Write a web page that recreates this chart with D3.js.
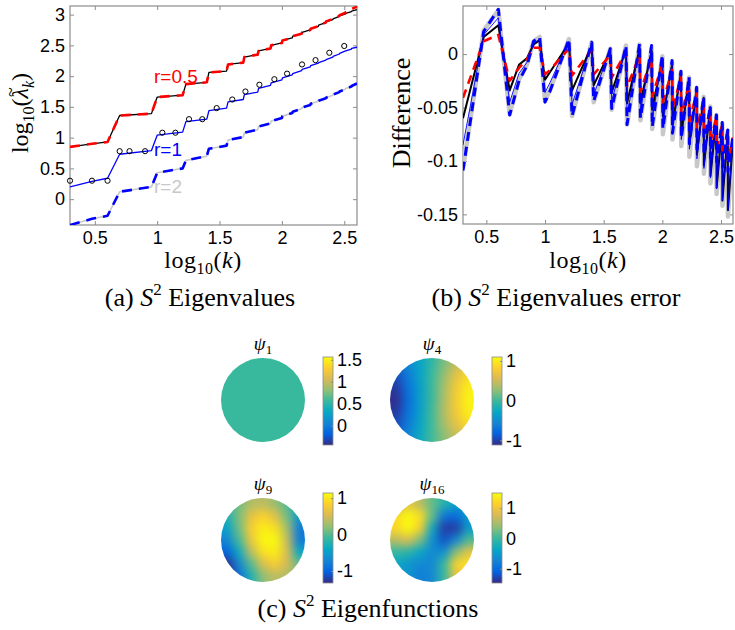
<!DOCTYPE html>
<html>
<head>
<meta charset="utf-8">
<script src="https://cdn.jsdelivr.net/npm/d3@7"></script>
<style>
body { margin:0; background:#fff; }
</style>
</head>
<body>
<script>
// ---- data: (a) eigenvalues, x = k, y = log10(lambda)
var kA = [2,3,4,5,9,10,16,17,25,26,36,37,49,50,64,65,81,82,100,101,121,122,144,145,169,170,196,197,225,226,256,257,289,290,324,325,361,362,400];
var r05Solid = [0.85,0.90,0.93,1.36,1.39,1.66,1.69,1.87,1.90,2.06,2.08,2.19,2.22,2.31,2.35,2.41,2.45,2.50,2.54,2.58,2.62,2.65,2.69,2.71,2.75,2.77,2.81,2.83,2.87,2.88,2.92,2.93,2.97,2.98,3.01,3.02,3.05,3.055,3.08];
var r05Dash  = [0.85,0.90,0.93,1.36,1.39,1.66,1.69,1.87,1.90,2.06,2.08,2.19,2.22,2.31,2.35,2.41,2.45,2.50,2.54,2.58,2.62,2.65,2.69,2.71,2.75,2.77,2.81,2.83,2.87,2.89,2.93,2.94,2.98,2.99,3.03,3.04,3.08,3.09,3.13];
var r1Solid  = [0.20,0.29,0.34,0.73,0.79,1.04,1.09,1.26,1.30,1.44,1.48,1.58,1.62,1.70,1.74,1.80,1.85,1.89,1.94,1.97,2.02,2.04,2.09,2.11,2.15,2.17,2.21,2.22,2.26,2.27,2.31,2.32,2.36,2.37,2.41,2.41,2.44,2.45,2.47];
var r2Solid  = [-0.42,-0.32,-0.27,0.12,0.20,0.43,0.50,0.63,0.70,0.82,0.87,0.96,1.01,1.08,1.13,1.18,1.23,1.27,1.32,1.35,1.40,1.42,1.47,1.49,1.53,1.55,1.59,1.60,1.64,1.65,1.69,1.70,1.74,1.75,1.79,1.80,1.83,1.84,1.88];
var r2Dash   = r2Solid;
var kTrue   = [2,3,4,5,6,8,11,14,18,23,30,40,51,66,87,110,145,186,240,316];
var lamTrue = [0.30,0.30,0.30,0.78,0.78,0.78,1.08,1.08,1.30,1.30,1.48,1.62,1.75,1.86,1.95,2.04,2.19,2.26,2.38,2.49];

// ---- data: (b) error
var kB = [2,3,4,5,6,7,8,9,10,11,16,17,25,26,36,37,49,50,64,65,81,82,100,101,121,122,144,145,169,170,196,197,225,226,256,257,289,290,324,325,361,362,400];
var errGray  = [-0.107,0.022,0.041,-0.056,-0.024,-0.010,0.012,0.016,-0.044,-0.034,0.014,-0.058,0.011,-0.045,0.005,-0.052,0.008,-0.066,0.009,-0.062,0.006,-0.070,-0.002,-0.075,-0.008,-0.080,-0.017,-0.086,-0.022,-0.096,-0.032,-0.105,-0.040,-0.112,-0.049,-0.121,-0.057,-0.131,-0.065,-0.142,-0.072,-0.152,-0.079];
var errBlack = [-0.060,0.016,0.027,-0.034,-0.010,-0.004,0.009,0.013,-0.024,-0.017,0.010,-0.034,0.008,-0.029,0.003,-0.036,0.005,-0.046,0.005,-0.046,0.003,-0.052,-0.004,-0.058,-0.010,-0.065,-0.018,-0.074,-0.024,-0.084,-0.033,-0.094,-0.041,-0.104,-0.050,-0.114,-0.058,-0.125,-0.066,-0.137,-0.073,-0.146,-0.080];
var errThin  = [-0.085,0.018,0.034,-0.045,-0.018,-0.008,0.010,0.014,-0.036,-0.027,0.012,-0.047,0.009,-0.038,0.004,-0.044,0.006,-0.057,0.007,-0.054,0.005,-0.061,-0.003,-0.066,-0.008,-0.072,-0.017,-0.080,-0.023,-0.089,-0.032,-0.098,-0.040,-0.107,-0.049,-0.116,-0.057,-0.126,-0.065,-0.137,-0.072,-0.146,-0.079];
var errRed   = [-0.041,0.012,0.018,-0.025,-0.013,-0.005,0.006,0.006,-0.019,-0.015,0.005,-0.020,0.004,-0.019,-0.001,-0.022,0.002,-0.031,-0.001,-0.035,-0.004,-0.040,-0.009,-0.045,-0.015,-0.051,-0.022,-0.057,-0.028,-0.063,-0.036,-0.070,-0.043,-0.076,-0.051,-0.083,-0.058,-0.089,-0.065,-0.095,-0.072,-0.100,-0.078];
var errBlue  = [-0.109,0.021,0.042,-0.057,-0.025,-0.011,0.012,0.016,-0.045,-0.035,0.014,-0.058,0.011,-0.044,0.005,-0.051,0.008,-0.066,0.010,-0.060,0.008,-0.068,-0.001,-0.070,-0.006,-0.074,-0.016,-0.079,-0.021,-0.084,-0.031,-0.089,-0.040,-0.093,-0.048,-0.097,-0.057,-0.101,-0.064,-0.106,-0.071,-0.110,-0.077];

var ticksX  = [0.5,1,1.5,2,2.5];
var ticksYA = [0,0.5,1,1.5,2,2.5,3];
var ticksYB = [-0.15,-0.1,-0.05,0];

// ---- data: (c) eigenfunctions (values sampled on a 7x7 grid over each disc)
var psi1Value = 0.564;
var psi4Grid = [
	[-0.80,-0.55,-0.30,-0.05,0.20,0.45,0.65],
	[-0.95,-0.65,-0.32,0.00,0.30,0.65,0.90],
	[-1.05,-0.72,-0.35,0.00,0.35,0.75,1.02],
	[-1.10,-0.75,-0.38,0.00,0.38,0.78,1.06],
	[-1.05,-0.72,-0.35,0.02,0.40,0.75,1.02],
	[-0.95,-0.65,-0.30,0.02,0.35,0.65,0.90],
	[-0.80,-0.55,-0.25,0.02,0.25,0.45,0.65]];
var psi9Grid = [
	[-0.10,0.10,0.35,0.40,0.25,0.00,-0.35],
	[-0.25,0.15,0.65,0.85,0.60,0.10,-0.55],
	[-0.45,0.10,0.80,1.05,0.95,0.30,-0.80],
	[-0.70,-0.05,0.70,1.12,1.12,0.45,-0.80],
	[-1.00,-0.35,0.40,0.95,1.05,0.55,-0.40],
	[-1.30,-0.70,0.00,0.55,0.80,0.50,0.05],
	[-1.35,-0.90,-0.25,0.20,0.40,0.35,0.20]];
var psi16Grid = [
	[0.60,0.90,0.60,0.20,-0.10,-0.40,-0.50],
	[1.20,1.55,1.25,0.20,-0.90,-1.00,-0.50],
	[1.20,1.55,1.10,-0.30,-1.35,-1.35,-0.50],
	[0.60,0.80,0.30,-0.60,-1.20,-0.70,0.10],
	[0.00,-0.10,-0.35,-0.70,-0.60,0.35,0.90],
	[-0.35,-0.55,-0.70,-0.70,0.00,1.15,1.30],
	[-0.35,-0.55,-0.80,-0.70,0.00,0.90,1.00]];
var psiNames  = ["1","4","9","16"];
var psiRanges = [[-0.436,1.564],[-1.12,1.10],[-1.33,1.14],[-1.47,1.50]];
var psiTicks  = [[0,0.5,1,1.5],[-1,0,1],[-1,0,1],[-1,0,1]];
var parula = ["#352a87","#0363e1","#1485d4","#06a7c6","#38b99e","#92bf73","#d9ba56","#fcce2e","#f9fb0e"];

var svg;
var spineColor = "#8c8c8c";
var sansFont = "'Liberation Sans', Arial, sans-serif";
var serifFont = "'Liberation Serif', 'Times New Roman', serif";

iniSvg(735, 630);
drawPanelA();
drawPanelB();
drawPanelC();

function iniSvg(w, h) {
	svg = d3.select('body')
		.append('svg')
		.attr('width', w)
		.attr('height', h);
	svg.append('defs');
	return svg;
}

// box axes in the matlab style: ticks inside, on all four sides
function drawBox(g, x, y, xt, yt, id) {
	var x0 = x.range()[0], x1 = x.range()[1], y0 = y.range()[0], y1 = y.range()[1];
	var fmt = function(d) { return String(d); };
	g.append('g').attr('transform', 'translate(0,' + y0 + ')')
		.call(d3.axisBottom(x).tickValues(xt).tickSize(-4).tickPadding(6).tickFormat(fmt));
	g.append('g').attr('transform', 'translate(0,' + y1 + ')')
		.call(d3.axisTop(x).tickValues(xt).tickSize(-4).tickFormat(''));
	g.append('g').attr('transform', 'translate(' + x0 + ',0)')
		.call(d3.axisLeft(y).tickValues(yt).tickSize(-4).tickPadding(5).tickFormat(fmt));
	g.append('g').attr('transform', 'translate(' + x1 + ',0)')
		.call(d3.axisRight(y).tickValues(yt).tickSize(-4).tickFormat(''));
	g.selectAll('.domain').remove();
	g.selectAll('.tick line').attr('stroke', spineColor);
	g.selectAll('.tick text').attr('font-family', sansFont).attr('font-size', 18).attr('fill', '#000');
	g.append('rect')
		.attr('x', x0).attr('y', y1)
		.attr('width', x1 - x0).attr('height', y0 - y1)
		.attr('fill', 'none').attr('stroke', spineColor).attr('stroke-width', 1.2);
	svg.select('defs').append('clipPath').attr('id', id)
		.append('rect').attr('x', x0).attr('y', y1).attr('width', x1 - x0).attr('height', y0 - y1);
}

function addLine(g, ks, vals, x, y, color, width, dash, clip) {
	var line = d3.line()
		.x(function(d) { return x(Math.log10(d[0])); })
		.y(function(d) { return y(d[1]); });
	g.append('path')
		.datum(d3.zip(ks, vals))
		.attr('clip-path', 'url(#' + clip + ')')
		.attr('d', line)
		.attr('fill', 'none')
		.attr('stroke', color)
		.attr('stroke-width', width)
		.attr('stroke-dasharray', dash)
		.attr('stroke-linejoin', 'round');
}

function addCaption(x, y, label, rest) {
	var t = svg.append('text')
		.attr('x', x).attr('y', y)
		.attr('text-anchor', 'middle')
		.attr('font-family', serifFont)
		.attr('font-size', 26);
	t.append('tspan').text(label + ' ');
	t.append('tspan').attr('font-style', 'italic').text('S');
	t.append('tspan').attr('font-size', 17).attr('dy', -11).text('2');
	t.append('tspan').attr('dy', 11).text(' ' + rest);
}

function addXLabel(x, y) {
	var t = svg.append('text')
		.attr('x', x).attr('y', y)
		.attr('text-anchor', 'middle')
		.attr('font-family', serifFont)
		.attr('font-size', 24)
		.attr('letter-spacing', 0.5);
	t.append('tspan').text('log');
	t.append('tspan').attr('font-size', 16).attr('dy', 6).text('10');
	t.append('tspan').attr('dy', -6).text('(');
	t.append('tspan').attr('font-style', 'italic').text('k');
	t.append('tspan').text(')');
}

function drawPanelA() {
	var x = d3.scaleLinear().domain([Math.log10(2), Math.log10(400)]).range([70, 357]);
	var y = d3.scaleLinear().domain([-0.42, 3.14]).range([225, 6]);
	var g = svg.append('g').attr('id', 'panelA');
	drawBox(g, x, y, ticksX, ticksYA, 'clipA');

	addLine(g, kA, r05Solid, x, y, '#000', 1.3, null, 'clipA');
	addLine(g, kA, r05Dash, x, y, '#ff0000', 2.6, '10,7', 'clipA');
	addLine(g, kA, r1Solid, x, y, '#0000ff', 1.3, null, 'clipA');
	addLine(g, kA, r2Solid, x, y, '#c8c8c8', 1.6, null, 'clipA');
	addLine(g, kA, r2Dash, x, y, '#0000ff', 2.6, '10,7', 'clipA');

	g.append('g').selectAll('circle.trueEig')
		.data(d3.zip(kTrue, lamTrue))
		.enter()
		.append('circle')
		.attr('class', 'trueEig')
		.attr('cx', function(d) { return x(Math.log10(d[0])); })
		.attr('cy', function(d) { return y(d[1]); })
		.attr('r', 2.6)
		.attr('fill', 'none')
		.attr('stroke', '#000')
		.attr('stroke-width', 1);

	var labs = [['r=0.5', '#ff0000', 83], ['r=1', '#0000ff', 156], ['r=2', '#c8c8c8', 193]];
	g.selectAll('text.rlab').data(labs).enter().append('text')
		.attr('class', 'rlab')
		.attr('x', 154).attr('y', function(d) { return d[2]; })
		.attr('font-family', sansFont).attr('font-size', 19)
		.attr('fill', function(d) { return d[1]; })
		.text(function(d) { return d[0]; });

	// y label; the tilde is put over the lambda after layout
	var yl = svg.append('g').attr('transform', 'translate(28,113) rotate(-90)');
	var t = yl.append('text')
		.attr('text-anchor', 'middle')
		.attr('font-family', serifFont)
		.attr('font-size', 24);
	t.append('tspan').text('log');
	t.append('tspan').attr('font-size', 16).attr('dy', 6).text('10');
	t.append('tspan').attr('dy', -6).text('(');
	t.append('tspan').attr('font-style', 'italic').text('\u03bb');
	t.append('tspan').attr('font-style', 'italic').attr('font-size', 16).attr('dy', 6).text('k');
	t.append('tspan').attr('dy', -6).text(')');
	var ext = t.node().getExtentOfChar(6);
	yl.append('text')
		.attr('x', ext.x + ext.width / 2 + 1)
		.attr('y', ext.y + 10)
		.attr('text-anchor', 'middle')
		.attr('font-family', serifFont)
		.attr('font-size', 18)
		.text('~');

	addXLabel(203, 268);
	addCaption(200, 306, '(a)', 'Eigenvalues');
}

function drawPanelB() {
	var x = d3.scaleLinear().domain([Math.log10(2), Math.log10(400)]).range([463, 733]);
	var y = d3.scaleLinear().domain([-0.159, 0.045]).range([224, 6]);
	var g = svg.append('g').attr('id', 'panelB');
	drawBox(g, x, y, ticksX, ticksYB, 'clipB');

	addLine(g, kB, errGray, x, y, '#c8c8c8', 4.5, null, 'clipB');
	addLine(g, kB, errBlack, x, y, '#000', 2, null, 'clipB');
	addLine(g, kB, errThin, x, y, '#0000ff', 0.9, null, 'clipB');
	addLine(g, kB, errRed, x, y, '#ff0000', 2.6, '9,6', 'clipB');
	addLine(g, kB, errBlue, x, y, '#0000ff', 3, '9,6', 'clipB');

	svg.append('text')
		.attr('transform', 'translate(410,113) rotate(-90)')
		.attr('text-anchor', 'middle')
		.attr('font-family', serifFont)
		.attr('font-size', 26)
		.text('Difference');

	addXLabel(588, 268);
	addCaption(556, 306, '(b)', 'Eigenvalues error');
}

function drawPanelC() {
	var defs = svg.select('defs');
	var blur = defs.append('filter').attr('id', 'smooth')
		.attr('x', '-20%').attr('y', '-20%').attr('width', '140%').attr('height', '140%')
		.attr('color-interpolation-filters', 'sRGB');
	blur.append('feGaussianBlur').attr('stdDeviation', 5);

	var grad = defs.append('linearGradient').attr('id', 'parulaGrad')
		.attr('x1', 0).attr('y1', 1).attr('x2', 0).attr('y2', 0);
	grad.selectAll('stop').data(parula).enter().append('stop')
		.attr('offset', function(d, i) { return i / (parula.length - 1); })
		.attr('stop-color', function(d) { return d; });

	var grids = [null, psi4Grid, psi9Grid, psi16Grid];
	var cx = [263, 432, 263, 432];
	var cy = [400, 400, 540, 540];
	var barY = [[357, 445], [357, 445], [493, 583], [493, 583]];
	var R = 42;

	psiNames.forEach(function(name, i) {
		var rng = psiRanges[i];
		var color = d3.scaleLinear()
			.domain(parula.map(function(c, j) { return rng[0] + (rng[1] - rng[0]) * j / (parula.length - 1); }))
			.range(parula)
			.clamp(true);
		var g = svg.append('g').attr('class', 'psi');

		defs.append('clipPath').attr('id', 'disc' + i)
			.append('circle').attr('cx', cx[i]).attr('cy', cy[i]).attr('r', R);

		if (grids[i] === null) {
			g.append('circle').attr('cx', cx[i]).attr('cy', cy[i]).attr('r', R)
				.attr('fill', color(psi1Value));
		} else {
			var n = grids[i].length;
			var gx = d3.scaleLinear().domain([0, n]).range([cx[i] - R, cx[i] + R]);
			var gy = d3.scaleLinear().domain([0, n]).range([cy[i] - R, cy[i] + R]);
			var pad = 14;
			var cells = [];
			grids[i].forEach(function(row, r) {
				row.forEach(function(v, c) { cells.push({r: r, c: c, v: v, n: n}); });
			});
			g.append('g').attr('clip-path', 'url(#disc' + i + ')')
				.append('g').attr('filter', 'url(#smooth)')
				.selectAll('rect').data(cells).enter().append('rect')
				.attr('x', function(d) { return gx(d.c) - (d.c === 0 ? pad : 0); })
				.attr('y', function(d) { return gy(d.r) - (d.r === 0 ? pad : 0); })
				.attr('width', function(d) { return gx(1) - gx(0) + (d.c === 0 || d.c === d.n - 1 ? pad : 0) + 0.5; })
				.attr('height', function(d) { return gy(1) - gy(0) + (d.r === 0 || d.r === d.n - 1 ? pad : 0) + 0.5; })
				.attr('fill', function(d) { return color(d.v); });
		}

		// title
		var t = g.append('text')
			.attr('x', cx[i]).attr('y', cy[i] - R - 8)
			.attr('text-anchor', 'middle')
			.attr('font-family', serifFont).attr('font-size', 19)
			.attr('font-style', 'italic');
		t.append('tspan').text('\u03c8');
		t.append('tspan').attr('font-size', 13).attr('dy', 4).attr('font-style', 'normal').text(name);

		// colorbar
		var bx = cx[i] + 60;
		var by = d3.scaleLinear().domain(rng).range([barY[i][1], barY[i][0]]);
		g.append('rect')
			.attr('x', bx).attr('y', barY[i][0])
			.attr('width', 10).attr('height', barY[i][1] - barY[i][0])
			.attr('fill', 'url(#parulaGrad)')
			.attr('stroke', spineColor).attr('stroke-width', 0.8);
		var ax = g.append('g').attr('transform', 'translate(' + (bx + 10) + ',0)')
			.call(d3.axisRight(by).tickValues(psiTicks[i]).tickSize(-2).tickPadding(4)
				.tickFormat(function(d) { return String(d); }));
		ax.select('.domain').remove();
		ax.selectAll('.tick line').attr('stroke', spineColor);
		ax.selectAll('.tick text').attr('font-family', sansFont).attr('font-size', 18).attr('fill', '#000');
	});

	addCaption(368, 617, '(c)', 'Eigenfunctions');
}
</script>
</body>
</html>
